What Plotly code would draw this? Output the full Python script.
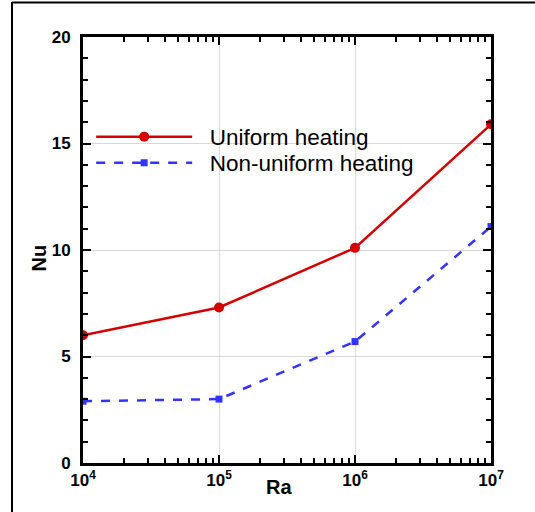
import plotly.graph_objects as go

ra = [1e4, 1e5, 1e6, 1e7]
nu_uniform = [6.0, 7.3, 10.1, 15.9]
nu_nonuniform = [2.9, 3.0, 5.7, 11.1]
x_tickvals = [1e4, 1e5, 1e6, 1e7]
x_ticktext = ["<b>10<sup>4</sup></b>", "<b>10<sup>5</sup></b>", "<b>10<sup>6</sup></b>", "<b>10<sup>7</sup></b>"]
x_minor = [m * 10 ** e for e in (4, 5, 6) for m in range(2, 10)]
y_tickvals = [0, 5, 10, 15, 20]
y_ticktext = ["<b>0</b>", "<b>5</b>", "<b>10</b>", "<b>15</b>", "<b>20</b>"]
y_minor = [v for v in range(1, 20) if v % 5]

fig = go.Figure()
fig.add_trace(go.Scatter(x=ra, y=nu_uniform, mode="lines+markers", name="\u00a0\u00a0Uniform heating",
                         line=dict(color="#d40000", width=2.5),
                         marker=dict(symbol="circle", size=10, color="#d40000"), legend="legend"))
fig.add_trace(go.Scatter(x=ra, y=nu_nonuniform, mode="lines+markers", name="\u00a0\u00a0Non-uniform heating",
                         line=dict(color="#3333ff", width=2.5, dash="dash"),
                         marker=dict(symbol="square", size=7, color="#3333ff"), legend="legend2"))

font = "Liberation Sans, Arial, sans-serif"
leg = dict(x=0.02, xanchor="left", yanchor="middle", bgcolor="rgba(0,0,0,0)",
           font=dict(size=22.5, family=font), itemwidth=96, tracegroupgap=0)
fig.update_layout(
    width=535, height=512,
    margin=dict(l=83, r=44, t=37, b=49),
    paper_bgcolor="white", plot_bgcolor="white",
    font=dict(family=font, color="black", size=17),
    legend=dict(leg, y=(463-137)/426),
    legend2=dict(leg, y=(463-163)/426),
    showlegend=True,
)
fig.update_xaxes(type="log", range=[4, 7], tickvals=x_tickvals, ticktext=x_ticktext,
                 ticks="inside", ticklen=8, tickwidth=2, tickcolor="black",
                 showline=True, linewidth=3, linecolor="black", mirror="ticks",
                 showgrid=True, gridcolor="#d8d8d8", gridwidth=1, zeroline=False,
                 minor=dict(ticks="inside", ticklen=5, tickwidth=1.5, tickcolor="black",
                            tickvals=x_minor, showgrid=False),
                 tickfont=dict(size=17, family=font))
fig.update_yaxes(range=[0, 20], tickvals=y_tickvals, ticktext=y_ticktext,
                 ticks="inside", ticklen=8, tickwidth=2, tickcolor="black",
                 showline=True, linewidth=3, linecolor="black", mirror="ticks",
                 showgrid=True, gridcolor="#d8d8d8", gridwidth=1, zeroline=False,
                 minor=dict(ticks="inside", ticklen=5, tickwidth=1.5, tickcolor="black",
                            tickvals=y_minor, showgrid=False),
                 tickfont=dict(size=17, family=font), ticklabelstandoff=6)

# axis titles placed as annotations
fig.add_annotation(text="<b>Ra</b>", xref="paper", yref="paper", x=(279-83)/408, y=(463-487)/426,
                   showarrow=False, font=dict(size=20), xanchor="center", yanchor="middle")
fig.add_annotation(text="<b>Nu</b>", xref="paper", yref="paper", x=(38.5-83)/408, y=(463-258)/426,
                   showarrow=False, font=dict(size=20), textangle=-90, xanchor="center", yanchor="middle")

# outer frame (partially visible in the reference)
fig.add_shape(type="line", xref="paper", yref="paper", x0=(12-83)/408, x1=(12-83)/408,
              y0=(463-2)/426, y1=(463-520)/426, line=dict(color="black", width=2))
fig.add_shape(type="line", xref="paper", yref="paper", x0=(12-83)/408, x1=(540-83)/408,
              y0=(463-2.5)/426, y1=(463-2.5)/426, line=dict(color="black", width=2))

fig.write_html("out.html")
